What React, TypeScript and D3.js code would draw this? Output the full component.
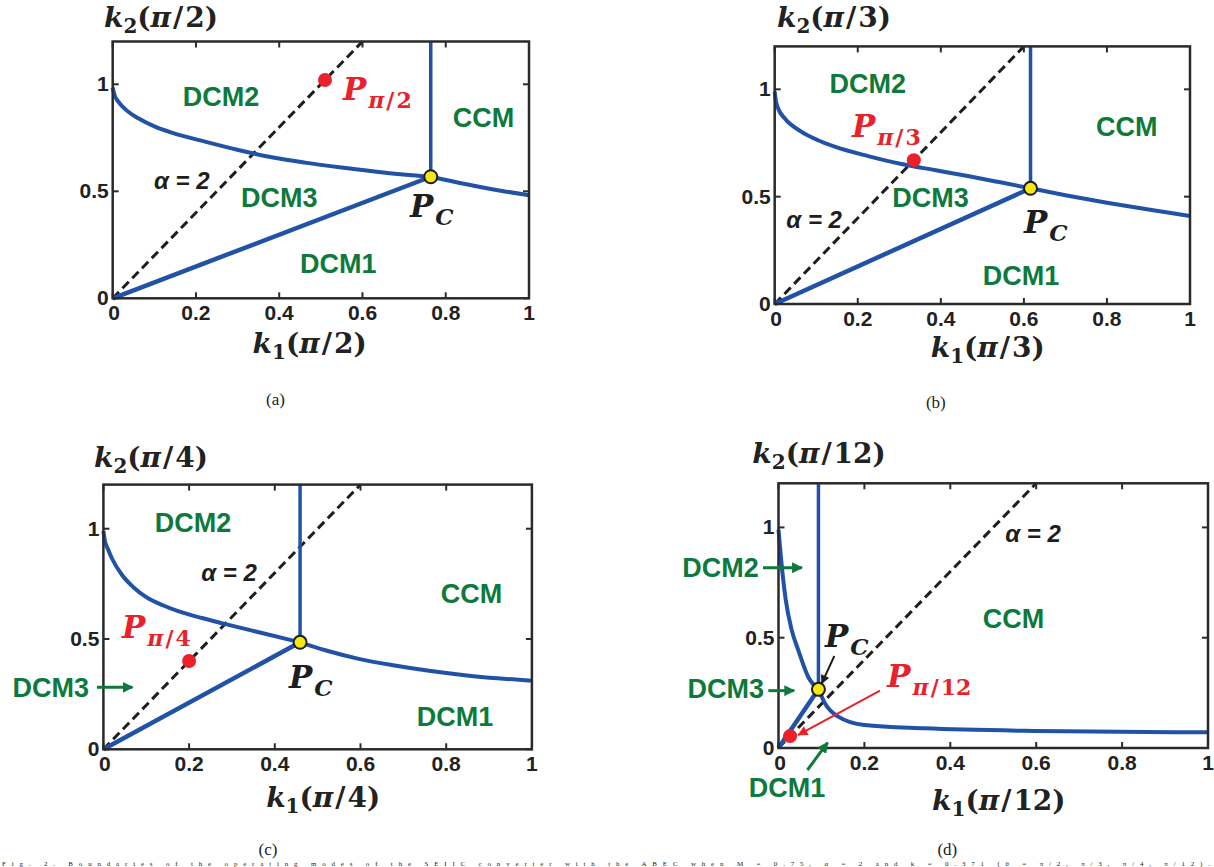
import React from "react";
import * as d3 from "d3";

type Pt = [number, number];

// ---------- shared axis data ----------
const xTickValues = [0, 0.2, 0.4, 0.6, 0.8, 1];
const xTickLabels = ["0", "0.2", "0.4", "0.6", "0.8", "1"];
const yTickValues = [0, 0.5, 1];
const yTickLabels = ["0", "0.5", "1"];
const yMax = 1.2;
const panelDenoms = ["2", "3", "4", "12"];
const panelCaptions = ["(a)", "(b)", "(c)", "(d)"];

// ---------- panel (a) θ = π/2 ----------
const upperLeftA: Pt[] = [[0, 0.985], [0.004, 0.952], [0.0135, 0.919], [0.0375, 0.872], [0.0615, 0.841], [0.1016, 0.802], [0.1417, 0.774], [0.2217, 0.732], [0.3017, 0.693], [0.382, 0.659], [0.462, 0.634], [0.55, 0.611], [0.65, 0.588], [0.764, 0.568]];
const upperRightA: Pt[] = [[0.764, 0.568], [0.85, 0.533], [0.932, 0.503], [1, 0.482]];
const pcA: Pt = [0.764, 0.568];
const opA: Pt = [0.51, 1.02];

// ---------- panel (b) θ = π/3 ----------
const upperLeftB: Pt[] = [[0, 0.99], [0.003, 0.945], [0.008, 0.912], [0.024, 0.865], [0.064, 0.803], [0.104, 0.763], [0.1445, 0.733], [0.225, 0.689], [0.305, 0.652], [0.385, 0.624], [0.465, 0.596], [0.54, 0.568], [0.616, 0.539]];
const upperRightB: Pt[] = [[0.616, 0.539], [0.7, 0.507], [0.8, 0.472], [0.9, 0.44], [1, 0.41]];
const pcB: Pt = [0.616, 0.539];
const opB: Pt = [0.335, 0.67];

// ---------- panel (c) θ = π/4 ----------
const upperLeftC: Pt[] = [[0, 0.99], [0.003, 0.95], [0.01, 0.91], [0.02, 0.865], [0.0435, 0.79], [0.07, 0.735], [0.1, 0.69], [0.14, 0.652], [0.178, 0.624], [0.23, 0.595], [0.278, 0.571], [0.37, 0.527], [0.459, 0.485]];
const upperRightC: Pt[] = [[0.459, 0.485], [0.52, 0.448], [0.596, 0.41], [0.68, 0.38], [0.76, 0.356], [0.848, 0.335], [0.92, 0.322], [1, 0.311]];
const pcC: Pt = [0.459, 0.485];
const opC: Pt = [0.2, 0.4];

// ---------- panel (d) θ = π/12 ----------
const upperLeftD: Pt[] = [[0, 0.99], [0.004, 0.9], [0.01, 0.78], [0.017, 0.67], [0.03, 0.54], [0.046, 0.444], [0.069, 0.323], [0.093, 0.266]];
const upperRightD: Pt[] = [[0.093, 0.266], [0.108, 0.203], [0.139, 0.142], [0.2, 0.104], [0.34, 0.089], [0.6, 0.077], [1, 0.071]];
const pcD: Pt = [0.093, 0.266];
const opD: Pt = [0.027, 0.054];

// α = 2 dashed line endpoints (k2 = 2·k1)
const alphaLine: Pt[] = [[0, 0], [0.6, 1.2]];

const BLUE = "#2152a6";
const GREEN = "#0d7a3c";
const RED = "#e8212b";
const DARK = "#1e1e1e";
const MATH = "'DejaVu Serif', serif";
const SANS = "'Liberation Sans', Arial, sans-serif";

type Lbl = { t: string; x: number; y: number };
type Arrow = { from: Pt; to: Pt; color: string; w: number; marker: string };

type PanelCfg = {
  box: { L: number; R: number; T: number; B: number };
  upperLeft: Pt[];
  upperRight: Pt[];
  pc: Pt;
  op: Pt;
  denom: string;
  caption: string;
  green: Lbl[];
  alpha: Pt;
  pLabel: Pt;
  pcLabel: Pt;
  arrows: Arrow[];
  yTitle: { dx: number; dy: number };
  xTitle: { x: number; dy: number };
  cap: { x: number; dy: number };
};

const panels: PanelCfg[] = [
  {
    box: { L: 112.7, R: 529, T: 41.5, B: 298.3 },
    upperLeft: upperLeftA, upperRight: upperRightA, pc: pcA, op: opA,
    denom: panelDenoms[0], caption: panelCaptions[0],
    green: [
      { t: "DCM2", x: 0.26, y: 0.899 },
      { t: "CCM", x: 0.891, y: 0.802 },
      { t: "DCM3", x: 0.4, y: 0.425 },
      { t: "DCM1", x: 0.542, y: 0.117 },
    ],
    alpha: [0.166, 0.511],
    pLabel: [0.553, 0.927],
    pcLabel: [0.714, 0.381],
    arrows: [],
    yTitle: { dx: -8.7, dy: -14.3 },
    xTitle: { x: 0.473, dy: 55 },
    cap: { x: 0.391, dy: 106.7 },
  },
  {
    box: { L: 774.7, R: 1190, T: 46.4, B: 304 },
    upperLeft: upperLeftB, upperRight: upperRightB, pc: pcB, op: opB,
    denom: panelDenoms[1], caption: panelCaptions[1],
    green: [
      { t: "DCM2", x: 0.224, y: 0.981 },
      { t: "CCM", x: 0.848, y: 0.783 },
      { t: "DCM3", x: 0.375, y: 0.453 },
      { t: "DCM1", x: 0.593, y: 0.0885 },
    ],
    alpha: [0.095, 0.353],
    pLabel: [0.186, 0.779],
    pcLabel: [0.6, 0.329],
    arrows: [],
    yTitle: { dx: 2.3, dy: -19.2 },
    xTitle: { x: 0.513, dy: 52.7 },
    cap: { x: 0.388, dy: 104 },
  },
  {
    box: { L: 103.4, R: 531.9, T: 484.6, B: 749.3 },
    upperLeft: upperLeftC, upperRight: upperRightC, pc: pcC, op: opC,
    denom: panelDenoms[2], caption: panelCaptions[2],
    green: [
      { t: "DCM2", x: 0.209, y: 0.986 },
      { t: "CCM", x: 0.859, y: 0.662 },
      { t: "DCM1", x: 0.8205, y: 0.106 },
      { t: "DCM3", x: -0.123, y: 0.238 },
    ],
    alpha: [0.293, 0.763],
    pLabel: [0.0434, 0.503],
    pcLabel: [0.433, 0.277],
    arrows: [
      { from: [-0.0152, 0.281], to: [0.068, 0.281], color: GREEN, w: 3, marker: "arrG" },
    ],
    yTitle: { dx: -9.4, dy: -18 },
    xTitle: { x: 0.513, dy: 57.4 },
    cap: { x: 0.384, dy: 105.5 },
  },
  {
    box: { L: 778.5, R: 1208, T: 483.3, B: 748 },
    upperLeft: upperLeftD, upperRight: upperRightD, pc: pcD, op: opD,
    denom: panelDenoms[3], caption: panelCaptions[3],
    green: [
      { t: "CCM", x: 0.547, y: 0.543 },
      { t: "DCM2", x: -0.135, y: 0.777 },
      { t: "DCM3", x: -0.123, y: 0.225 },
      { t: "DCM1", x: 0.0198, y: -0.221 },
    ],
    alpha: [0.5926, 0.935],
    pLabel: [0.2533, 0.278],
    pcLabel: [0.108, 0.459],
    arrows: [
      { from: [-0.036, 0.817], to: [0.0547, 0.817], color: GREEN, w: 3, marker: "arrG" },
      { from: [-0.0237, 0.26], to: [0.0366, 0.26], color: GREEN, w: 3, marker: "arrG" },
      { from: [0.0673, -0.0997], to: [0.1143, 0.024], color: GREEN, w: 3, marker: "arrG" },
      { from: [0.13, 0.417], to: [0.1006, 0.293], color: DARK, w: 2, marker: "arrK" },
      { from: [0.2363, 0.26], to: [0.0461, 0.059], color: RED, w: 2, marker: "arrR" },
    ],
    yTitle: { dx: -26.2, dy: -20 },
    xTitle: { x: 0.513, dy: 62 },
    cap: { x: 0.393, dy: 106.8 },
  },
];

function Title({ x, y, sub, denom, anchor }: { x: number; y: number; sub: string; denom: string; anchor: "start" | "middle" }) {
  return (
    <text x={x} y={y} textAnchor={anchor} fontFamily={MATH} fontWeight="bold" fontSize={28} fill="#222">
      <tspan fontStyle="italic">k</tspan>
      <tspan fontSize={20} dy={6}>{sub}</tspan>
      <tspan dy={-6}>(</tspan>
      <tspan fontStyle="italic">π</tspan>
      <tspan dx={2}>/</tspan>
      <tspan dx={2}>{denom})</tspan>
    </text>
  );
}

function Panel({ cfg }: { cfg: PanelCfg }) {
  const { L, R, T, B } = cfg.box;
  const x = d3.scaleLinear().domain([0, 1]).range([L, R]);
  const y = d3.scaleLinear().domain([0, yMax]).range([B, T]);
  const smooth = d3.line<Pt>().x((d) => x(d[0])).y((d) => y(d[1])).curve(d3.curveMonotoneX);
  const straight = d3.line<Pt>().x((d) => x(d[0])).y((d) => y(d[1]));
  const lower: Pt[] = [[0, 0], cfg.pc];
  const vertical: Pt[] = [cfg.pc, [cfg.pc[0], yMax]];
  const tick = 6;

  return (
    <g>
      <path d={straight(alphaLine) || ""} fill="none" stroke={DARK} strokeWidth={3} strokeDasharray="9,5" />
      <path d={straight(vertical) || ""} fill="none" stroke={BLUE} strokeWidth={3.5} />
      <path d={straight(lower) || ""} fill="none" stroke={BLUE} strokeWidth={4.5} />
      <path d={smooth(cfg.upperLeft) || ""} fill="none" stroke={BLUE} strokeWidth={4} />
      <path d={smooth(cfg.upperRight) || ""} fill="none" stroke={BLUE} strokeWidth={4} />

      <rect x={L} y={T} width={R - L} height={B - T} fill="none" stroke="#2a2a2a" strokeWidth={2.5} />
      {xTickValues.map((v, i) => (
        <g key={"xt" + i}>
          <line x1={x(v)} x2={x(v)} y1={B} y2={B - tick} stroke="#2a2a2a" strokeWidth={2} />
          <line x1={x(v)} x2={x(v)} y1={T} y2={T + tick} stroke="#2a2a2a" strokeWidth={2} />
          <text x={x(v) + (i === 0 ? 1.5 : 0)} y={B + 22} textAnchor="middle" fontFamily={SANS} fontWeight="bold" fontSize={21} fill="#222">
            {xTickLabels[i]}
          </text>
        </g>
      ))}
      {yTickValues.map((v, i) => (
        <g key={"yt" + i}>
          <line x1={L} x2={L + tick} y1={y(v)} y2={y(v)} stroke="#2a2a2a" strokeWidth={2} />
          <line x1={R} x2={R - tick} y1={y(v)} y2={y(v)} stroke="#2a2a2a" strokeWidth={2} />
          <text x={L - 4} y={y(v) + 7} textAnchor="end" fontFamily={SANS} fontWeight="bold" fontSize={21} fill="#222">
            {yTickLabels[i]}
          </text>
        </g>
      ))}

      {cfg.arrows.map((a, i) => (
        <line key={"ar" + i} x1={x(a.from[0])} y1={y(a.from[1])} x2={x(a.to[0])} y2={y(a.to[1])}
          stroke={a.color} strokeWidth={a.w} markerEnd={`url(#${a.marker})`} />
      ))}

      <circle cx={x(cfg.op[0])} cy={y(cfg.op[1])} r={7} fill={RED} />
      <circle cx={x(cfg.pc[0])} cy={y(cfg.pc[1])} r={6.5} fill="#f4e714" stroke={DARK} strokeWidth={2} />

      {cfg.green.map((g, i) => (
        <text key={"g" + i} x={x(g.x)} y={y(g.y)} textAnchor="middle" fontFamily={SANS} fontWeight="bold" fontSize={27} fill={GREEN}>
          {g.t}
        </text>
      ))}
      <text x={x(cfg.alpha[0])} y={y(cfg.alpha[1])} textAnchor="middle" fontFamily={SANS} fontWeight="bold" fontStyle="italic" fontSize={24} fill={DARK}>
        α = 2
      </text>

      <text x={x(cfg.pLabel[0])} y={y(cfg.pLabel[1])} fontFamily={MATH} fontWeight="bold" fontSize={31} fill={RED}>
        <tspan fontStyle="italic">P</tspan>
        <tspan fontSize={22} dy={8} dx={2}>
          <tspan fontStyle="italic">π</tspan>
          <tspan dx={2}>/</tspan>
          <tspan dx={2}>{cfg.denom}</tspan>
        </tspan>
      </text>
      <text x={x(cfg.pcLabel[0])} y={y(cfg.pcLabel[1])} fontFamily={MATH} fontWeight="bold" fontSize={31} fill={DARK}>
        <tspan fontStyle="italic">P</tspan>
        <tspan fontSize={23} dy={8} dx={2} fontStyle="italic">C</tspan>
      </text>

      <Title x={L + cfg.yTitle.dx} y={T + cfg.yTitle.dy} sub="2" denom={cfg.denom} anchor="start" />
      <Title x={x(cfg.xTitle.x)} y={B + cfg.xTitle.dy} sub="1" denom={cfg.denom} anchor="middle" />
      <text x={x(cfg.cap.x)} y={B + cfg.cap.dy} textAnchor="middle" fontFamily="'Liberation Serif', 'Times New Roman', serif" fontSize={17} fill="#222">
        {cfg.caption}
      </text>
    </g>
  );
}

export default function App() {
  return (
    <svg width={1214} height={867} viewBox="0 0 1214 867"
      style={{ position: "absolute", left: 0, top: 0, background: "#fff", display: "block" }}>
      <defs>
        <marker id="arrG" viewBox="0 0 10 10" refX="9" refY="5" markerUnits="userSpaceOnUse" markerWidth="11" markerHeight="11" orient="auto">
          <path d="M0,0 L10,5 L0,10 z" fill={GREEN} />
        </marker>
        <marker id="arrR" viewBox="0 0 10 10" refX="9" refY="5" markerUnits="userSpaceOnUse" markerWidth="13" markerHeight="10" orient="auto">
          <path d="M0,0 L10,5 L0,10 z" fill={RED} />
        </marker>
        <marker id="arrK" viewBox="0 0 10 10" refX="9" refY="5" markerUnits="userSpaceOnUse" markerWidth="11" markerHeight="9" orient="auto">
          <path d="M0,0 L10,5 L0,10 z" fill={DARK} />
        </marker>
      </defs>
      <rect x={0} y={0} width={1214} height={867} fill="#fff" />
      {panels.map((p, i) => (
        <Panel key={i} cfg={p} />
      ))}
      <text x={2} y={865.5} fontFamily="'Liberation Serif', 'Times New Roman', serif" fontSize={7} fill="#222"
        textLength={1208} lengthAdjust="spacing">
        Fig. 2. Boundaries of the operating modes of the SEIIC converter with the ABEC when M = 0.75, α = 2 and k = 0.371 (θ = π/2, π/3, π/4, π/12).
      </text>
    </svg>
  );
}
